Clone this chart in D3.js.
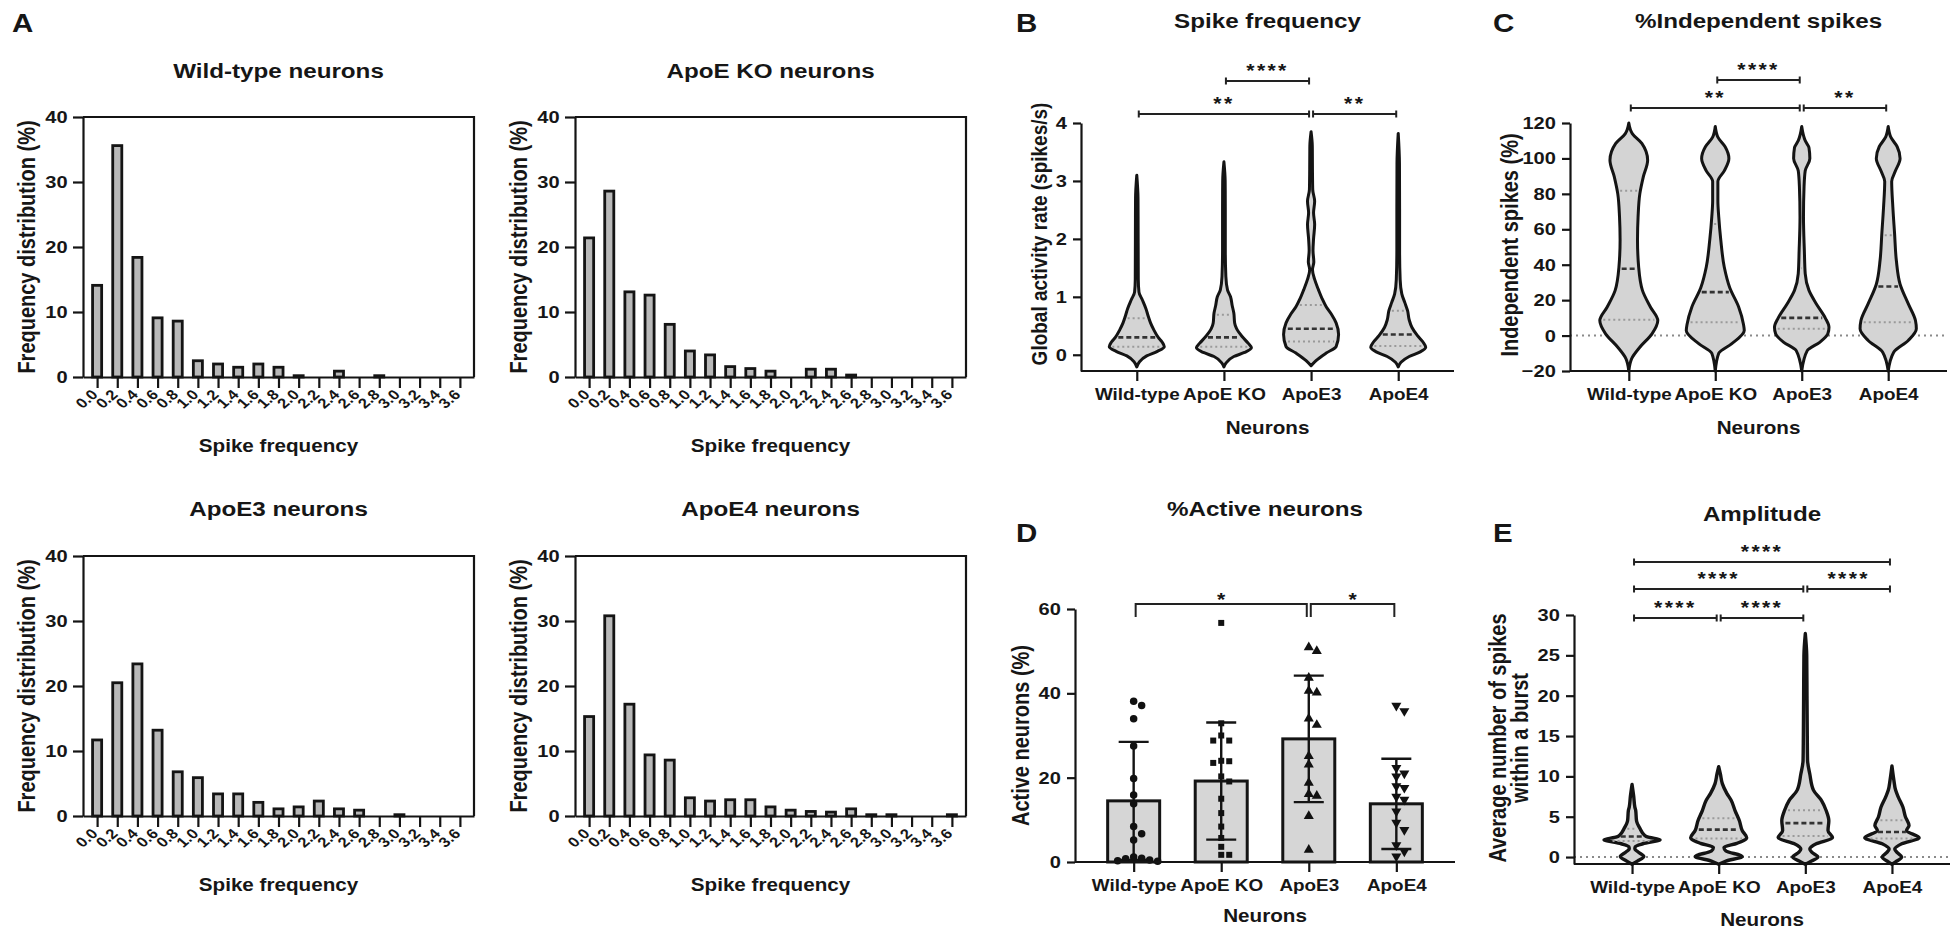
<!DOCTYPE html>
<html><head><meta charset="utf-8">
<script src="https://cdn.jsdelivr.net/npm/d3@7"></script>
<style>
body{margin:0;background:#fff}
svg{display:block;background:#fff}
text{font-family:"Liberation Sans",Arial,sans-serif;font-weight:bold;fill:#161616}
</style></head>
<body><svg id="chart" width="1955" height="930"></svg>
<script>
// ---------------- DATA ----------------
const histBins = ["0.0","0.2","0.4","0.6","0.8","1.0","1.2","1.4","1.6","1.8","2.0","2.2","2.4","2.6","2.8","3.0","3.2","3.4","3.6"];
const histTicks = [0,10,20,30,40];
const histWildType = [14.1,35.6,18.4,9.1,8.6,2.5,2.0,1.5,2.0,1.5,0.2,0,0.9,0,0.2,0,0,0,0];
const histApoEKO   = [21.4,28.6,13.1,12.6,8.1,4.0,3.4,1.6,1.3,0.9,0,1.2,1.2,0.3,0,0,0,0,0];
const histApoE3    = [11.7,20.5,23.4,13.2,6.8,5.9,3.4,3.4,2.1,1.1,1.4,2.3,1.1,0.9,0,0.2,0,0,0];
const histApoE4    = [15.3,30.8,17.2,9.4,8.6,2.8,2.3,2.5,2.5,1.4,0.9,0.7,0.6,1.1,0.2,0.2,0,0,0.2];

const groups = ["Wild-type","ApoE KO","ApoE3","ApoE4"];

// B: spike frequency violins [value, relative density]
const spikeTicks = [0,1,2,3,4];
const spikeWT = [[-0.21,0],[-0.12,0.1],[-0.02,0.36],[0.06,0.75],[0.14,1.0],[0.22,0.92],[0.3,0.78],[0.43,0.62],[0.55,0.5],[0.66,0.42],[0.8,0.33],[0.95,0.2],[1.08,0.08],[1.3,0.055],[2.0,0.05],[2.7,0.045],[3.1,0]];
const spikeKO = [[-0.21,0],[-0.14,0.08],[-0.03,0.36],[0.04,0.75],[0.12,1.0],[0.2,0.88],[0.31,0.67],[0.45,0.46],[0.55,0.39],[0.72,0.36],[0.85,0.3],[1.0,0.24],[1.12,0.13],[1.35,0.07],[1.8,0.05],[2.5,0.05],[3.0,0.045],[3.33,0]];
const spikeE3 = [[-0.19,0],[-0.1,0.18],[0.03,0.55],[0.14,0.91],[0.35,1.0],[0.55,0.91],[0.7,0.74],[0.83,0.55],[0.97,0.4],[1.12,0.27],[1.3,0.13],[1.47,0.05],[1.6,0.1],[1.8,0.07],[2.0,0.09],[2.25,0.13],[2.45,0.09],[2.65,0.13],[2.85,0.06],[3.2,0.05],[3.6,0.045],[3.85,0]];
const spikeE4 = [[-0.21,0],[-0.13,0.1],[-0.03,0.4],[0.05,0.8],[0.13,1.0],[0.22,0.9],[0.33,0.7],[0.47,0.5],[0.6,0.4],[0.76,0.34],[0.9,0.24],[1.05,0.13],[1.3,0.07],[1.8,0.05],[2.5,0.05],[3.3,0.045],[3.82,0]];
const spikeQuart = [[0.14,0.30,0.63],[0.14,0.30,0.69],[0.23,0.45,0.86],[0.15,0.35,0.76]];
const sigSpike = [[0,2,"**",0],[2,3,"**",0],[1,2,"****",1]];

// C: independent spikes violins
const indepTicks = [-20,0,20,40,60,80,100,120];
const indepWT = [[-20,0],[-13,0.1],[-6.6,0.38],[1,0.8],[8.5,1.0],[16,0.75],[25.5,0.47],[38.7,0.34],[54,0.3],[67,0.32],[80,0.38],[89.6,0.5],[99,0.65],[108.5,0.45],[114,0.12],[120,0]];
const indepKO = [[-20,0],[-10,0.12],[-4.7,0.56],[2.8,1.0],[6.6,0.97],[16,0.81],[27,0.5],[38.7,0.31],[54,0.19],[67,0.12],[76,0.09],[87,0.09],[93,0.31],[100,0.47],[106.6,0.34],[112,0.09],[118,0]];
const indepE3 = [[-20,0],[-8.5,0.19],[-3.8,0.62],[1,0.9],[4.7,0.94],[10,0.81],[18,0.5],[25.5,0.25],[35,0.12],[48,0.09],[67,0.06],[84,0.08],[93,0.12],[100,0.28],[106,0.25],[110,0.12],[118,0]];
const indepE4 = [[-20,0],[-9.4,0.19],[-2.8,0.69],[3.8,0.97],[8.5,0.94],[18,0.69],[29,0.41],[42.5,0.28],[57.5,0.22],[72.6,0.16],[87,0.12],[93,0.25],[100,0.41],[106.6,0.31],[112,0.09],[118,0]];
const indepQuart = [[9,37.7,81.7],[7.5,24.5,63],[3.8,10,38],[7.5,27.7,56.6]];
const sigIndep = [[0,2,"**",0],[2,3,"**",0],[1,2,"****",1]];

// D: active neurons bar + scatter
const activeTicks = [0,20,40,60];
const activeMeans = [14.5,19.2,29.2,13.8];
const activeSD = [14.0,13.9,15.0,10.7];
const activeWT = [38.1,37.1,34.0,27.5,19.8,15.9,13.8,8.4,6.7,5.2,1.2,0.9,0.8,0.5,0.3,0.2];
const activeKO = [56.7,32.9,30.0,28.8,28.8,24.0,23.9,23.5,20.3,19.1,15.0,11.6,8.4,5.7,3.6,1.7,1.7];
const activeE3 = [50.9,50.0,43.7,40.6,40.2,34.0,32.5,25.1,23.1,18.8,16.1,15.7,10.9,2.9];
const activeE4 = [37.1,35.8,22.3,21.0,20.3,18.0,17.6,15.5,14.8,12.0,9.3,7.6,4.0,2.5,1.3];
const sigActive = [[0,2,"*"],[2,3,"*"]];

// E: amplitude violins
const burstTicks = [0,5,10,15,20,25,30];
const burstWT = [[-0.9,0],[-0.5,0.19],[0.08,0.42],[0.6,0.23],[1.0,0.1],[1.3,0.12],[1.65,0.39],[2.15,1.0],[2.5,0.55],[2.7,0.45],[3.5,0.29],[4.5,0.16],[5.8,0.13],[6.2,0.1],[7.5,0.06],[9.0,0]];
const burstKO = [[-0.9,0],[-0.5,0.26],[0.08,0.84],[0.75,0.26],[1.2,0.19],[1.7,0.65],[2.4,1.0],[3.3,0.84],[4.5,0.74],[5.8,0.58],[7.0,0.45],[7.9,0.29],[9.1,0.13],[10.3,0.06],[11.2,0]];
const burstE3 = [[-0.9,0],[-0.6,0.16],[0,0.45],[0.6,0.23],[1.0,0.16],[1.65,0.39],[2.4,0.97],[3.3,0.81],[4.5,0.84],[5.8,0.74],[7.0,0.58],[8.3,0.29],[10.3,0.16],[12,0.08],[15,0.07],[20,0.06],[25,0.05],[27.7,0]];
const burstE4 = [[-0.9,0],[-0.6,0.13],[0,0.35],[0.55,0.19],[1.0,0.1],[1.65,0.35],[2.4,0.97],[3.3,0.52],[3.9,0.61],[5.0,0.48],[6.2,0.39],[7.4,0.23],[8.3,0.13],[9.5,0.07],[11.3,0]];
const burstQuart = [[2.0,2.55,3.5],[2.3,3.4,4.8],[2.6,4.2,5.8],[2.3,3.1,4.55]];
const sigBurst = [[0,1,"****",0],[1,2,"****",0],[0,2,"****",1],[2,3,"****",1],[0,3,"****",2]];

// ---------------- HELPERS ----------------
const SX = 1.18;
const INK = "#141414";
const fmtInt = d3.format("d");
const svg = d3.select("#chart");

function label(g, x, y, s, size, o = {}) {
  const t = g.append("text")
    .attr("transform", `translate(${x},${y}) scale(${SX},1)` + (o.rotate ? ` rotate(${o.rotate})` : ""))
    .attr("text-anchor", o.anchor || "middle")
    .style("font-size", size + "px")
    .text(s);
  if (o.dy) t.attr("dy", o.dy);
  if (o.ls) t.style("letter-spacing", o.ls);
  return t;
}
function styleAxis(sel, size) {
  sel.attr("font-size", null).attr("font-family", null);
  sel.select(".domain").attr("stroke", INK).attr("stroke-width", 2.2);
  sel.selectAll(".tick line").attr("stroke", INK).attr("stroke-width", 2.2);
  sel.selectAll(".tick text").attr("fill", INK).style("font-size", size + "px")
     .attr("transform", `scale(${SX},1)`);
}

// ---------------- PANEL A ----------------
label(svg, 12, 32, "A", 25, {anchor: "start"});
const histPanels = [
  {title: "Wild-type neurons", values: histWildType, x0: 83, x1: 474, y0: 117, y1: 377, tb: 78, xb: 452},
  {title: "ApoE KO neurons", values: histApoEKO, x0: 575, x1: 966, y0: 117, y1: 377, tb: 78, xb: 452},
  {title: "ApoE3 neurons", values: histApoE3, x0: 83, x1: 474, y0: 556, y1: 816, tb: 516, xb: 891},
  {title: "ApoE4 neurons", values: histApoE4, x0: 575, x1: 966, y0: 556, y1: 816, tb: 516, xb: 891}
];
histPanels.forEach(p => {
  const g = svg.append("g");
  const x = d3.scalePoint().domain(histBins).range([p.x0, p.x1]).padding(0.7);
  const y = d3.scaleLinear().domain([0, 40]).range([p.y1, p.y0]);
  g.append("path").attr("d", `M${p.x0},${p.y0}H${p.x1}V${p.y1}`)
    .attr("fill", "none").attr("stroke", INK).attr("stroke-width", 2.2);
  const bw = x.step() * 0.45;
  g.append("g").selectAll("rect")
    .data(histBins.map((b, i) => ({b, v: p.values[i]})).filter(d => d.v > 0))
    .join("rect")
    .attr("x", d => x(d.b) - bw / 2).attr("width", bw)
    .attr("y", d => y(d.v)).attr("height", d => y(0) - y(d.v))
    .attr("fill", "#b9b9b9").attr("stroke", INK).attr("stroke-width", 2.8);
  const ya = g.append("g").attr("transform", `translate(${p.x0},0)`)
    .call(d3.axisLeft(y).tickValues(histTicks).tickFormat(fmtInt).tickSize(10).tickPadding(3).tickSizeOuter(0));
  styleAxis(ya, 17);
  const xa = g.append("g").attr("transform", `translate(0,${p.y1})`)
    .call(d3.axisBottom(x).tickSize(11).tickSizeOuter(0));
  styleAxis(xa, 14);
  xa.selectAll(".tick text").attr("x", 0).attr("y", 0).attr("dy", "0.35em")
    .attr("text-anchor", "end")
    .attr("transform", `translate(-3,15) scale(${SX},1) rotate(-45)`);
  label(g, (p.x0 + p.x1) / 2, p.tb, p.title, 20.5);
  label(g, (p.x0 + p.x1) / 2, p.xb, "Spike frequency", 17.5);
  label(g, p.x0 - 56, (p.y0 + p.y1) / 2, "Frequency distribution (%)", 20, {rotate: -90, dy: "0.35em"});
});

// ---------------- VIOLIN PANEL ----------------
function drawSig(g, x, sig, levels) {
  sig.forEach(([a, b, s, lv]) => {
    const xa = x(groups[a]) + 2, xb = x(groups[b]) - 2, yy = levels[lv];
    g.append("path").attr("d", `M${xa},${yy - 3.5}V${yy + 3.5}M${xa},${yy}H${xb}M${xb},${yy - 3.5}V${yy + 3.5}`)
      .attr("fill", "none").attr("stroke", "#222").attr("stroke-width", 2);
    label(g, (xa + xb) / 2, yy - 4, s, 18, {ls: "2px"});
  });
}
function violinPanel(cfg) {
  const g = svg.append("g");
  const x = d3.scalePoint().domain(groups).range([cfg.x0, cfg.x1]).padding(cfg.pad);
  const y = d3.scaleLinear().domain(cfg.domain).range([cfg.yb, cfg.yt]);
  if (cfg.zeroLine) {
    g.append("line").attr("x1", cfg.x0).attr("x2", cfg.x1).attr("y1", y(0)).attr("y2", y(0))
      .attr("stroke", "#8a8a8a").attr("stroke-width", 2).attr("stroke-dasharray", "2,4");
  }
  const w = d3.scaleLinear().domain([0, 1]).range([0, cfg.half]);
  cfg.profiles.forEach((prof, i) => {
    const cx = x(groups[i]);
    const area = d3.area().curve(d3.curveMonotoneY)
      .y(d => y(d[0])).x0(d => cx - w(d[1])).x1(d => cx + w(d[1]));
    g.append("path").attr("d", area(prof)).attr("fill", "#d4d4d4")
      .attr("stroke", INK).attr("stroke-width", cfg.sw).attr("stroke-linejoin", "round");
    const dens = d3.scaleLinear().domain(prof.map(d => d[0])).range(prof.map(d => d[1]));
    cfg.quarts[i].forEach((q, k) => {
      const hw = Math.max(0, w(dens(q)) - cfg.sw);
      g.append("line").attr("x1", cx - hw).attr("x2", cx + hw).attr("y1", y(q)).attr("y2", y(q))
        .attr("stroke", k === 1 ? "#333" : "#9a9a9a")
        .attr("stroke-width", k === 1 ? 2.6 : 2)
        .attr("stroke-dasharray", k === 1 ? "5,3" : "2,3");
    });
  });
  const ya = g.append("g").attr("transform", `translate(${cfg.x0},0)`)
    .call(d3.axisLeft(y).tickValues(cfg.ticks).tickFormat(fmtInt).tickSize(8).tickPadding(4).tickSizeOuter(0));
  styleAxis(ya, 17);
  const xa = g.append("g").attr("transform", `translate(0,${cfg.yb})`)
    .call(d3.axisBottom(x).tickSize(10).tickPadding(8).tickSizeOuter(0));
  styleAxis(xa, 16);
  xa.select(".domain").attr("d", `M${cfg.x0},0H${cfg.x1}`);
  drawSig(g, x, cfg.sig, cfg.sigY);
  label(g, cfg.ltrX, cfg.ltrY, cfg.letter, 25, {anchor: "start"});
  label(g, (cfg.x0 + cfg.x1) / 2, cfg.titleY, cfg.title, 20.5);
  label(g, (cfg.x0 + cfg.x1) / 2, cfg.neurY, "Neurons", 17.5);
  cfg.ytitle.forEach((t, k) => label(g, cfg.ytX[k], cfg.ytY, t, cfg.ytSize, {rotate: -90, dy: "0.35em"}));
}

violinPanel({
  letter: "B", ltrX: 1016, ltrY: 32, title: "Spike frequency", titleY: 28,
  x0: 1081, x1: 1454, pad: 0.64, yb: 371, yt: 123, domain: [-0.28, 4], ticks: spikeTicks,
  profiles: [spikeWT, spikeKO, spikeE3, spikeE4], quarts: spikeQuart, half: 27.5, sw: 3,
  sig: sigSpike, sigY: [114, 81], neurY: 434,
  ytitle: ["Global activity rate (spikes/s)"], ytX: [1039], ytY: 234, ytSize: 19
});
violinPanel({
  letter: "C", ltrX: 1493, ltrY: 32, title: "%Independent spikes", titleY: 28,
  x0: 1570, x1: 1947, pad: 0.68, yb: 371, yt: 123, domain: [-20, 120], ticks: indepTicks,
  profiles: [indepWT, indepKO, indepE3, indepE4], quarts: indepQuart, half: 29, sw: 3,
  sig: sigIndep, sigY: [108, 80], neurY: 434, zeroLine: true,
  ytitle: ["Independent spikes (%)"], ytX: [1510], ytY: 245, ytSize: 20
});
violinPanel({
  letter: "E", ltrX: 1493, ltrY: 542, title: "Amplitude", titleY: 521,
  x0: 1574, x1: 1950, pad: 0.67, yb: 864, yt: 615, domain: [-0.86, 30], ticks: burstTicks,
  profiles: [burstWT, burstKO, burstE3, burstE4], quarts: burstQuart, half: 28, sw: 3.4,
  sig: sigBurst, sigY: [618, 589, 562], neurY: 926, zeroLine: true,
  ytitle: ["Average number of spikes", "within a burst"], ytX: [1498, 1520], ytY: 738, ytSize: 20
});

// ---------------- PANEL D ----------------
(function () {
  const g = svg.append("g");
  const x0 = 1075, x1 = 1455, yb = 862, yt = 609;
  const x = d3.scalePoint().domain(groups).range([x0, x1]).padding(0.67);
  const y = d3.scaleLinear().domain([0, 60]).range([yb, yt]);
  const bw = 52;
  g.selectAll("rect.bar").data(activeMeans).join("rect").attr("class", "bar")
    .attr("x", (d, i) => x(groups[i]) - bw / 2).attr("width", bw)
    .attr("y", d => y(d)).attr("height", d => y(0) - y(d))
    .attr("fill", "#d6d6d6").attr("stroke", INK).attr("stroke-width", 3);
  activeMeans.forEach((m, i) => {
    const cx = x(groups[i]);
    const lo = Math.max(0, m - activeSD[i]), hi = m + activeSD[i];
    g.append("path").attr("d", `M${cx},${y(lo)}V${y(hi)}M${cx - 15},${y(hi)}H${cx + 15}M${cx - 15},${y(lo)}H${cx + 15}`)
      .attr("fill", "none").attr("stroke", INK).attr("stroke-width", 2.4);
  });
  const pts = [activeWT, activeKO, activeE3, activeE4];
  const shapes = [d3.symbolCircle, d3.symbolSquare, d3.symbolTriangle, d3.symbolTriangle];
  pts.forEach((vals, i) => {
    const cx = x(groups[i]);
    const placed = [];
    const d = 8;
    vals.forEach(v => {
      const py = y(v);
      for (let k = 0; k < 30; k++) {
        const off = k === 0 ? 0 : (k % 2 ? 1 : -1) * Math.ceil(k / 2) * d;
        const px = cx + off;
        if (placed.every(p => Math.hypot(p[0] - px, p[1] - py) >= d - 0.5)) { placed.push([px, py]); break; }
      }
    });
    g.append("g").selectAll("path").data(placed).join("path")
      .attr("d", d3.symbol().type(shapes[i]).size(i === 1 ? 36 : 44))
      .attr("transform", p => `translate(${p[0]},${p[1]})` + (i === 3 ? " rotate(180)" : ""))
      .attr("fill", "#111");
  });
  const ya = g.append("g").attr("transform", `translate(${x0},0)`)
    .call(d3.axisLeft(y).tickValues(activeTicks).tickFormat(fmtInt).tickSize(8).tickPadding(4).tickSizeOuter(0));
  styleAxis(ya, 17);
  const xa = g.append("g").attr("transform", `translate(0,${yb})`)
    .call(d3.axisBottom(x).tickSize(10).tickPadding(8).tickSizeOuter(0));
  styleAxis(xa, 16);
  xa.select(".domain").attr("d", `M${x0},0H${x1}`);
  sigActive.forEach(([a, b, s]) => {
    const xa1 = x(groups[a]) + 2, xb1 = x(groups[b]) - 2, yy = 604;
    g.append("path").attr("d", `M${xa1},617V${yy}H${xb1}V617`)
      .attr("fill", "none").attr("stroke", "#222").attr("stroke-width", 2);
    label(g, (xa1 + xb1) / 2, yy + 2, s, 18);
  });
  label(g, 1016, 542, "D", 25, {anchor: "start"});
  label(g, (x0 + x1) / 2, 516, "%Active neurons", 20.5);
  label(g, (x0 + x1) / 2, 922, "Neurons", 17.5);
  label(g, 1021, (yb + yt) / 2, "Active neurons (%)", 20, {rotate: -90, dy: "0.35em"});
})();
</script>
</body></html>
